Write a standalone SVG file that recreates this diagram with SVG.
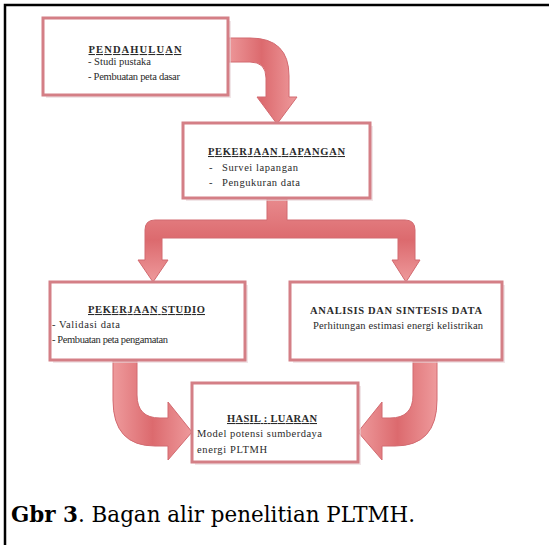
<svg xmlns="http://www.w3.org/2000/svg" width="549" height="545" viewBox="0 0 549 545">
<style>
.frame{stroke:#000;stroke-width:2.5;fill:none}
.box{fill:#fff;stroke:#d47f86;stroke-width:3}
.shadow{fill:#e8d6d8;opacity:0.6}
.arrow{fill:url(#ag);stroke:#d26a70;stroke-width:1}
.bar{fill:url(#vg);stroke:#d26a70;stroke-width:1}
.t{font-family:"Liberation Serif","Times New Roman",serif;font-size:10.5px;fill:#2a2a2a}
.tb{font-family:"Liberation Serif","Times New Roman",serif;font-size:10.5px;font-weight:bold;fill:#2a2a2a}
.u{text-decoration:underline}
.cap{font-family:"DejaVu Serif","Liberation Serif",serif;font-size:23px;fill:#000}
</style>
<defs>
<linearGradient id="ag" x1="0" y1="0" x2="1" y2="0">
<stop offset="0" stop-color="#ee9a9c"/>
<stop offset="0.5" stop-color="#dc6a6e"/>
<stop offset="1" stop-color="#ee9a9c"/>
</linearGradient>
<linearGradient id="vg" x1="0" y1="0" x2="0" y2="1">
<stop offset="0" stop-color="#e88a8d"/>
<stop offset="0.5" stop-color="#dc6a6e"/>
<stop offset="1" stop-color="#ee9a9c"/>
</linearGradient>
</defs>
<rect width="549" height="545" fill="#fff"/>
<path class="frame" d="M5,545 L5,5 L549,5"/>
<g id="connectors">
<path class="arrow" d="M226,38 L250,38 Q289,38 289,76 L289,97 L297,97 L277,124 L257,97 L266,97 L266,78 Q266,62 250,62 L226,62 Z"/>
<path class="bar" d="M267,198 L287,198 L287,220 L405,220 Q415,220 415,230 L415,260 L420,260 L406,282 L392,260 L398,260 L398,238 L162,238 L162,260 L168,260 L153,282 L138,260 L145,260 L145,230 Q145,220 155,220 L267,220 Z"/>
<path class="arrow" d="M113,360 L137,360 L137,395 Q137,418 160,418 L168,418 L168,402 L192,432 L168,460 L168,446 L155,446 Q113,446 113,400 Z"/>
<path class="arrow" d="M437,360 L413,360 L413,395 Q413,418 390,418 L382,418 L382,402 L358,432 L382,460 L382,446 L395,446 Q437,446 437,400 Z"/>
</g>
<g id="pendahuluan">
<rect class="shadow" x="46" y="21" width="185" height="77"/>
<rect class="box" x="43" y="18" width="185" height="77"/>
<text class="tb u" x="135" y="53" text-anchor="middle" textLength="93">PENDAHULUAN</text>
<text class="t" x="88" y="65">- Studi pustaka</text>
<text class="t" x="88" y="80" textLength="92">- Pembuatan peta dasar</text>
</g>
<g id="lapangan">
<rect class="shadow" x="186" y="126" width="187" height="75"/>
<rect class="box" x="183" y="123" width="187" height="75"/>
<text class="tb u" x="208" y="155" textLength="137">PEKERJAAN LAPANGAN</text>
<text class="t" x="209" y="171">-</text>
<text class="t" x="222" y="171" textLength="76">Survei lapangan</text>
<text class="t" x="209" y="186">-</text>
<text class="t" x="222" y="186" textLength="78">Pengukuran data</text>
</g>
<g id="studio">
<rect class="shadow" x="53" y="285" width="195" height="78"/>
<rect class="box" x="50" y="282" width="195" height="78"/>
<text class="tb u" x="88" y="313" textLength="117">PEKERJAAN STUDIO</text>
<text class="t" x="52" y="328" textLength="68">- Validasi data</text>
<text class="t" x="52" y="343" textLength="116">- Pembuatan peta pengamatan</text>
</g>
<g id="analisis">
<rect class="shadow" x="293" y="285" width="212" height="78"/>
<rect class="box" x="290" y="282" width="212" height="78"/>
<text class="tb" x="310" y="314" textLength="172">ANALISIS DAN SINTESIS DATA</text>
<text class="t" x="313" y="329" textLength="170">Perhitungan estimasi energi kelistrikan</text>
</g>
<g id="hasil">
<rect class="shadow" x="195" y="386" width="166" height="79"/>
<rect class="box" x="192" y="383" width="166" height="79"/>
<text class="tb u" x="227" y="422" textLength="90">HASIL : LUARAN</text>
<text class="t" x="197" y="437" textLength="125">Model potensi sumberdaya</text>
<text class="t" x="197" y="453" textLength="70">energi PLTMH</text>
</g>
<text class="cap" x="11" y="522" textLength="404" lengthAdjust="spacingAndGlyphs"><tspan font-weight="bold">Gbr 3</tspan>. Bagan alir penelitian PLTMH.</text>
</svg>
